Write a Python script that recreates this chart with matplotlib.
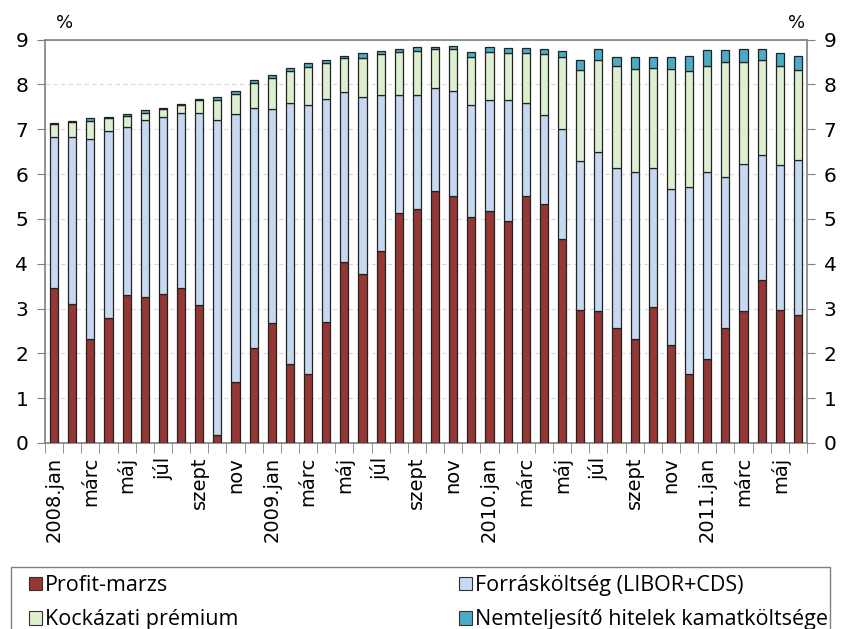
import matplotlib
matplotlib.use("Agg")
import matplotlib.pyplot as plt
import matplotlib.patches as mpatches
import numpy as np

# havi adatok, 2008. jan - 2011. jún (százalékpont)
profit = [3.45, 3.10, 2.33, 2.78, 3.31, 3.26, 3.32, 3.45, 3.07, 0.17, 1.35, 2.13,
          2.68, 1.76, 1.55, 2.69, 4.03, 3.78, 4.28, 5.12, 5.23, 5.63, 5.52, 5.05,
          5.17, 4.96, 5.52, 5.33, 4.54, 2.97, 2.95, 2.57, 2.32, 3.04, 2.19, 1.55,
          1.88, 2.57, 2.95, 3.63, 2.97, 2.86]
forras = [3.38, 3.73, 4.46, 4.17, 3.73, 3.94, 3.96, 3.91, 4.30, 7.03, 5.98, 5.35,
          4.77, 5.82, 6.00, 4.99, 3.79, 3.93, 3.49, 2.65, 2.54, 2.28, 2.33, 2.48,
          2.48, 2.69, 2.06, 1.98, 2.47, 3.33, 3.55, 3.57, 3.73, 3.09, 3.47, 4.15,
          4.17, 3.37, 3.27, 2.80, 3.23, 3.45]
kockazat = [0.29, 0.32, 0.39, 0.29, 0.26, 0.16, 0.16, 0.17, 0.27, 0.45, 0.45, 0.54,
            0.70, 0.72, 0.83, 0.80, 0.76, 0.88, 0.90, 0.96, 0.98, 0.87, 0.93, 1.09,
            1.07, 1.06, 1.11, 1.36, 1.61, 2.01, 2.05, 2.26, 2.30, 2.24, 2.68, 2.60,
            2.37, 2.55, 2.27, 2.11, 2.21, 2.00]
npl = [0.02, 0.04, 0.06, 0.04, 0.04, 0.06, 0.04, 0.03, 0.03, 0.07, 0.07, 0.07,
       0.05, 0.07, 0.10, 0.07, 0.05, 0.10, 0.08, 0.05, 0.08, 0.06, 0.08, 0.10,
       0.12, 0.10, 0.11, 0.11, 0.13, 0.23, 0.23, 0.22, 0.27, 0.23, 0.26, 0.33,
       0.35, 0.27, 0.29, 0.24, 0.28, 0.32]

# minden második hónap felirata
honap_cimkek = ["2008.jan", "márc", "máj", "júl", "szept", "nov",
                "2009.jan", "márc", "máj", "júl", "szept", "nov",
                "2010.jan", "márc", "máj", "júl", "szept", "nov",
                "2011.jan", "márc", "máj"]

nevek = ["Profit-marzs", "Forrásköltség (LIBOR+CDS)", "Kockázati prémium",
         "Nemteljesítő hitelek kamatköltsége"]
szinek = ["#953735", "#C6D9F1", "#DDEFD0", "#4BACC6"]

W, H = 841, 629
fig = plt.figure(figsize=(W / 100, H / 100), dpi=100)
ax = fig.add_axes([45 / W, 1 - 443 / H, 762 / W, 403.5 / H])

x = np.arange(len(profit))
also = np.zeros(len(profit))
for ertek, szin in zip([profit, forras, kockazat, npl], szinek):
    ax.bar(x, ertek, width=0.45, bottom=also, color=szin,
           edgecolor="#222222", linewidth=0.9, zorder=3)
    also = also + np.array(ertek)

ax.set_xlim(-0.5, len(profit) - 0.5)
ax.set_ylim(0, 9)
ax.set_yticks(range(10))

ax.yaxis.grid(True, linestyle=(0, (4, 3)), color="#d9d9d9", linewidth=0.8, zorder=0)
ax.set_axisbelow(True)

for sp in ax.spines.values():
    sp.set_color("#808080")
    sp.set_linewidth(1.2)

ax.tick_params(axis="y", which="both", direction="out", length=6, color="#808080",
               left=True, right=True, labelleft=True, labelright=True,
               labelsize=14.5, pad=6)

ax.set_xticks(np.arange(0, len(profit), 2))
ax.set_xticklabels(honap_cimkek, rotation=90, fontsize=14)
ax.set_xticks(np.arange(-0.5, len(profit), 1), minor=True)
ax.tick_params(axis="x", which="major", length=0, pad=10)
ax.tick_params(axis="x", which="minor", direction="out", length=7, color="#808080")

fig.text(65 / W, 1 - 23 / H, "%", ha="center", va="center", fontsize=13)
fig.text(797 / W, 1 - 23 / H, "%", ha="center", va="center", fontsize=13)

# jelmagyarázat keretje, alul kilóg a képből
keret = mpatches.Rectangle((11 / W, -0.05), 819 / W, 1 - 567 / H + 0.05,
                           transform=fig.transFigure, facecolor="white",
                           edgecolor="#808080", linewidth=1.0)
fig.patches.append(keret)

fogantyuk = [mpatches.Patch(facecolor=szinek[i], edgecolor="#333333", linewidth=0.8)
             for i in [0, 2, 1, 3]]
cimkek = [nevek[i] for i in [0, 2, 1, 3]]
leg = fig.legend(fogantyuk, cimkek, loc="upper left",
                 bbox_to_anchor=(29 / W, 1 - 575 / H, 799 / W, 0.0),
                 mode="expand", ncol=2, frameon=False,
                 prop={"family": "Open Sans", "size": 15.5},
                 handlelength=0.6, handleheight=0.6, handletextpad=0.15,
                 labelspacing=0.62, borderpad=0.0, borderaxespad=0)

fig.savefig("out.png", dpi=100)
